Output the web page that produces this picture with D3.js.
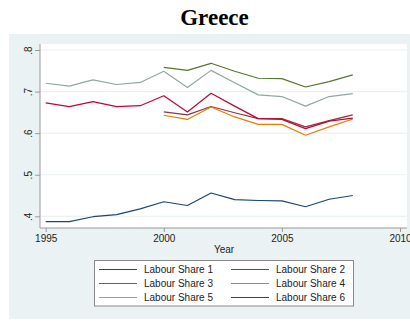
<!DOCTYPE html>
<html>
<head>
<meta charset="utf-8">
<script src="https://cdn.jsdelivr.net/npm/d3@7"></script>
<style>
  html, body { margin: 0; padding: 0; background: #fff; }
  svg { display: block; font-family: "Liberation Sans", Arial, sans-serif; }
</style>
</head>
<body>
<div id="chart"></div>
<script>
// data
const years = [1995, 1996, 1997, 1998, 1999, 2000, 2001, 2002, 2003, 2004, 2005, 2006, 2007, 2008]
const share1 = [0.387, 0.387, 0.399, 0.404, 0.418, 0.435, 0.426, 0.456, 0.440, 0.438, 0.437, 0.423, 0.441, 0.450]
const share2 = [null, null, null, null, null, 0.651, 0.644, 0.664, 0.649, 0.635, 0.635, 0.615, 0.630, 0.644]
const share3 = [null, null, null, null, null, 0.758, 0.751, 0.768, 0.749, 0.732, 0.731, 0.711, 0.724, 0.740]
const share4 = [null, null, null, null, null, 0.643, 0.633, 0.663, 0.639, 0.621, 0.621, 0.595, 0.615, 0.634]
const share5 = [0.720, 0.713, 0.728, 0.717, 0.722, 0.749, 0.710, 0.751, 0.721, 0.692, 0.688, 0.665, 0.688, 0.695]
const share6 = [0.673, 0.664, 0.676, 0.664, 0.666, 0.690, 0.651, 0.696, 0.665, 0.635, 0.633, 0.611, 0.629, 0.636]
const seriesNames = ['Labour Share 1', 'Labour Share 2', 'Labour Share 3', 'Labour Share 4', 'Labour Share 5', 'Labour Share 6']
const xTicks = [1995, 2000, 2005, 2010]
const yTicks = [0.4, 0.5, 0.6, 0.7, 0.8]

const colors = ['#1a476f', '#90353b', '#55752f', '#e37e00', '#8fa89f', '#c10534']
const allSeries = [share1, share2, share3, share4, share5, share6]

const width = 410
const height = 323
const BG = '#eaf2f3'
const plot = {left: 40, right: 407, top: 44, bottom: 228}

const svg = d3.select('#chart').append('svg')
  .attr('width', width).attr('height', height)

// outer graph region
svg.append('rect').attr('x', 9).attr('y', 34).attr('width', width - 9).attr('height', 285).attr('fill', BG)

// title
svg.append('text')
  .attr('x', 214.5).attr('y', 25)
  .attr('text-anchor', 'middle')
  .attr('font-family', '"Liberation Serif", "Times New Roman", serif')
  .attr('font-weight', 'bold').attr('font-size', 23)
  .text('Greece')

// plot region
svg.append('rect')
  .attr('x', plot.left).attr('y', plot.top)
  .attr('width', plot.right - plot.left).attr('height', plot.bottom - plot.top)
  .attr('fill', '#fff')

const x = d3.scaleLinear().domain([1995, 2010]).range([45.7, 400])
const y = d3.scaleLinear().domain([0.4, 0.8]).range([216.3, 50])

// grid
svg.append('g')
  .selectAll('line')
  .data(yTicks)
  .join('line')
  .attr('x1', plot.left).attr('x2', plot.right)
  .attr('y1', d => y(d)).attr('y2', d => y(d))
  .attr('stroke', BG).attr('stroke-width', 1.2)

// y axis
const yAxis = d3.axisLeft(y).tickValues(yTicks).tickSize(5).tickPadding(6)
  .tickFormat(d => d3.format('.1f')(d).replace(/^0/, ''))
const gy = svg.append('g').attr('transform', `translate(${plot.left},0)`).call(yAxis)
gy.select('.domain').remove()
gy.selectAll('.tick line').attr('stroke', '#999')
gy.selectAll('.tick text')
  .attr('font-size', 10).attr('fill', '#222')
  .attr('x', 0).attr('dy', 0)
  .attr('text-anchor', 'middle')
  .attr('transform', 'translate(-8,0) rotate(-90)')
gy.append('line').attr('x1', 0).attr('x2', 0).attr('y1', plot.top).attr('y2', plot.bottom).attr('stroke', '#999')

// x axis
const xAxis = d3.axisBottom(x).tickValues(xTicks).tickSize(4).tickPadding(3).tickFormat(d3.format('d'))
const gx = svg.append('g').attr('transform', `translate(0,${plot.bottom})`).call(xAxis)
gx.select('.domain').remove()
gx.selectAll('.tick line').attr('stroke', '#999')
gx.selectAll('.tick text').attr('font-size', 10).attr('fill', '#222')
gx.append('line').attr('x1', plot.left).attr('x2', plot.right).attr('y1', 0).attr('y2', 0).attr('stroke', '#999')

svg.append('text')
  .attr('x', 224).attr('y', 253)
  .attr('text-anchor', 'middle').attr('font-size', 10).attr('fill', '#222')
  .text('Year')

// lines
const line = d3.line()
  .defined(d => d[1] != null)
  .x(d => x(d[0])).y(d => y(d[1]))

svg.append('g')
  .selectAll('path')
  .data(allSeries)
  .join('path')
  .attr('d', s => line(years.map((yr, i) => [yr, s[i]])))
  .attr('fill', 'none')
  .attr('stroke', (d, i) => colors[i])
  .attr('stroke-width', 1.2)
  .attr('stroke-linejoin', 'round')

// legend
const legend = svg.append('g')
legend.append('rect')
  .attr('x', 94.5).attr('y', 260.5).attr('width', 259).attr('height', 45.5)
  .attr('fill', '#fff').attr('stroke', '#888').attr('stroke-width', 1)

legend.selectAll('g.item')
  .data(seriesNames)
  .join('g')
  .classed('item', true)
  .attr('transform', (d, i) => `translate(${i % 2 === 0 ? 99 : 231}, ${269.5 + Math.floor(i / 2) * 14})`)
  .call(sel => {
    sel.append('line')
      .attr('x1', 0).attr('x2', 38).attr('y1', 0).attr('y2', 0)
      .attr('stroke', d => colors[seriesNames.indexOf(d)]).attr('stroke-width', 1.2)
    sel.append('text')
      .attr('x', 45).attr('dy', '0.35em')
      .attr('font-size', 10).attr('fill', '#222')
      .text(d => d)
  })
</script>
</body>
</html>
